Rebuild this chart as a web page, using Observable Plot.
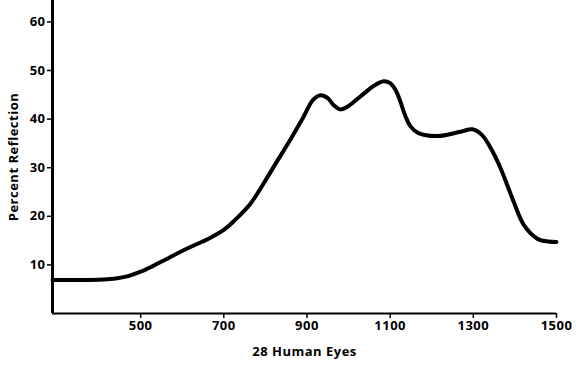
<!DOCTYPE html>
<html>
<head>
<meta charset="utf-8">
<script src="https://cdn.jsdelivr.net/npm/d3@7"></script>
<script src="https://cdn.jsdelivr.net/npm/@observablehq/plot@0.6"></script>
<style>
  html, body { margin: 0; padding: 0; background: #fff; }
</style>
</head>
<body>
<div id="chart"></div>
<script>
const wavelength = [288, 350, 410, 440, 470, 500, 530, 560, 603, 668, 700, 724, 764, 796, 830, 861, 890, 915, 933, 950, 965, 980, 1000, 1029, 1060, 1084, 1100, 1113, 1125, 1135, 1149, 1168, 1214, 1269, 1298, 1320, 1340, 1365, 1397, 1421, 1454, 1480, 1500];
const reflection = [6.9, 6.9, 7.0, 7.2, 7.7, 8.6, 9.8, 11.1, 13.0, 15.6, 17.2, 19.0, 22.6, 26.8, 31.6, 35.9, 40.2, 44.0, 44.9, 44.3, 42.8, 42.0, 42.7, 44.7, 46.8, 47.8, 47.4, 46.0, 43.5, 41.0, 38.5, 37.1, 36.5, 37.4, 37.9, 36.8, 34.3, 30.0, 23.0, 18.3, 15.4, 14.8, 14.7];
const xTicks = [500, 700, 900, 1100, 1300, 1500];
const yTicks = [10, 20, 30, 40, 50, 60];
const xLabel = "28 Human Eyes";
const yLabel = "Percent Reflection";

const data = wavelength.map((w, i) => ({w, r: reflection[i]}));
const xMin = wavelength[0];

const chart = Plot.plot({
  width: 576,
  height: 376,
  marginLeft: 52,
  marginRight: 20,
  marginTop: 0,
  marginBottom: 63,
  style: {fontFamily: "'Open Sans', sans-serif", fontWeight: "bold", fontSize: "13px", letterSpacing: "0.5px", color: "#000", background: "#fff"},
  x: {domain: [xMin, 1500]},
  y: {domain: [0, 64.4]},
  marks: [
    Plot.axisX({ticks: xTicks, tickSize: 5, tickPadding: 2, tickFormat: d => String(d), label: xLabel, labelArrow: "none", labelAnchor: "center", labelOffset: 42, strokeWidth: 1.5}),
    Plot.axisY({ticks: yTicks, tickSize: 5, tickPadding: 2, tickFormat: d => String(d), label: yLabel, labelArrow: "none", labelAnchor: "center", labelOffset: 44, strokeWidth: 1.5}),
    Plot.ruleY([0], {strokeWidth: 2}),
    Plot.ruleX([xMin], {strokeWidth: 3}),
    Plot.line(data, {x: "w", y: "r", curve: "catmull-rom", strokeWidth: 4, stroke: "#000"})
  ]
});
document.getElementById("chart").appendChild(chart);
</script>
</body>
</html>
